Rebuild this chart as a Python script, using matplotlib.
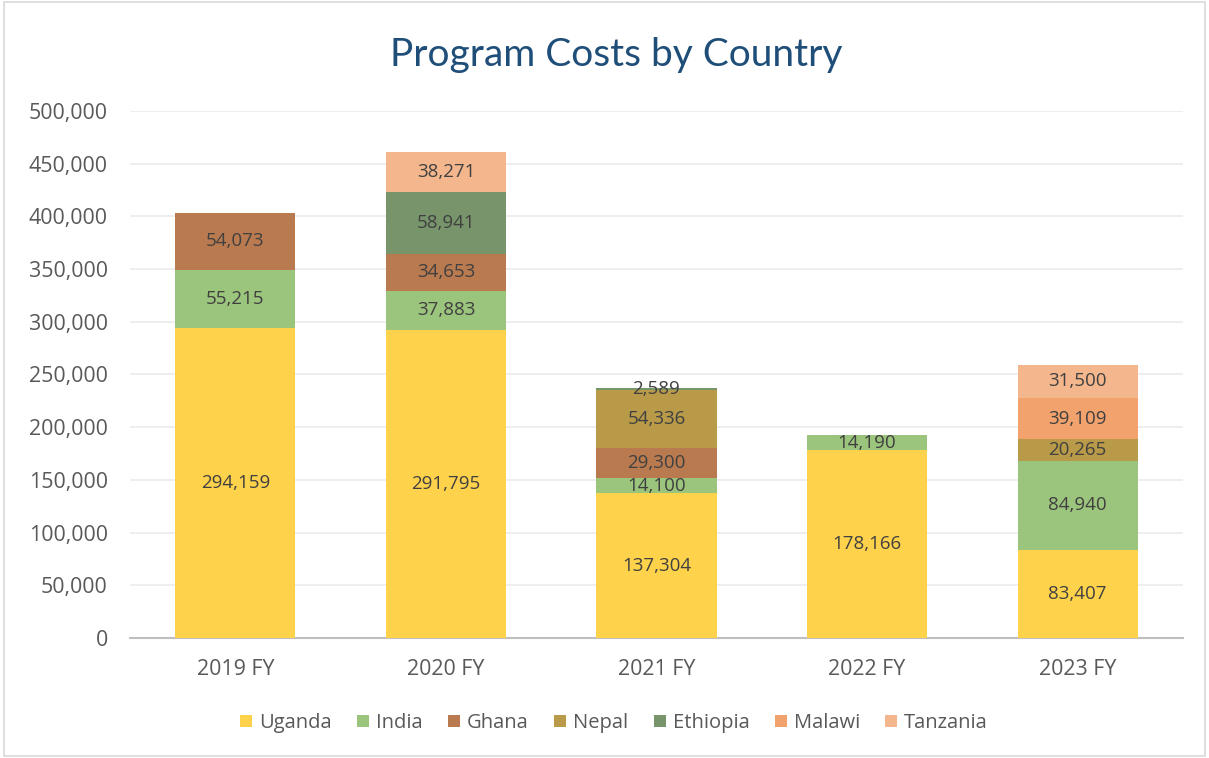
import matplotlib.pyplot as plt
import numpy as np

# data
years = ['2019 FY', '2020 FY', '2021 FY', '2022 FY', '2023 FY']
countries = ['Uganda', 'India', 'Ghana', 'Nepal', 'Ethiopia', 'Malawi', 'Tanzania']
uganda = [294159, 291795, 137304, 178166, 83407]
india = [55215, 37883, 14100, 14190, 84940]
ghana = [54073, 34653, 29300, 0, 0]
nepal = [0, 0, 54336, 0, 20265]
ethiopia = [0, 58941, 2589, 0, 0]
malawi = [0, 0, 0, 0, 39109]
tanzania = [0, 38271, 0, 0, 31500]

series = [uganda, india, ghana, nepal, ethiopia, malawi, tanzania]
colors = ['#FFD24C', '#9BC47C', '#B97A50', '#B89A48', '#77946A', '#F2A26C', '#F4B68C']

plt.rcParams['font.family'] = ['Open Sans', 'DejaVu Sans']

fig = plt.figure(figsize=(12.09, 7.58), dpi=100)
ax = fig.add_axes([0.1075, 0.1583, 0.871, 0.6953])

x = np.arange(len(years))
bottom = np.zeros(len(years))
for name, vals, c in zip(countries, series, colors):
    vals = np.array(vals, dtype=float)
    ax.bar(x, vals, 0.57, bottom=bottom, color=c, label=name, zorder=3)
    for xi, v, b in zip(x, vals, bottom):
        if v > 0:
            ax.text(xi, b + v / 2, f'{int(v):,}', ha='center', va='center',
                    fontsize=13.5, color='#404040', zorder=4)
    bottom += vals

ax.set_xlim(-0.5, len(years) - 0.5)
ax.set_ylim(0, 500000)
ax.set_yticks(np.arange(0, 500001, 50000))
ax.set_yticklabels([f'{v:,}' for v in range(0, 500001, 50000)])
ax.set_xticks(x)
ax.set_xticklabels(years)
ax.tick_params(axis='both', length=0, labelsize=15.4, colors='#595959')
ax.tick_params(axis='x', pad=15)
ax.tick_params(axis='y', pad=16)
ax.grid(axis='y', color='#EBEBEB', linewidth=1.2, zorder=0)
for s in ['top', 'right', 'left']:
    ax.spines[s].set_visible(False)
ax.spines['bottom'].set_color('#BFBFBF')
ax.spines['bottom'].set_linewidth(1.5)

fig.text(0.51, 0.928, 'Program Costs by Country', fontsize=28, color='#1F4E79',
         ha='center', va='center', family=['Lato', 'DejaVu Sans'])

fig.legend(loc='center', bbox_to_anchor=(0.508, 0.046), ncol=7, frameon=False,
           fontsize=14.5, labelcolor='#595959', handlelength=0.6, handleheight=0.6,
           handletextpad=0.35, columnspacing=1.25)

# light border round the chart area
fig.patches.append(plt.Rectangle((0.003, 0.003), 0.994, 0.994, transform=fig.transFigure,
                                 fill=False, edgecolor='#D9D9D9', linewidth=1.2))

plt.savefig('out.png', dpi=100)
